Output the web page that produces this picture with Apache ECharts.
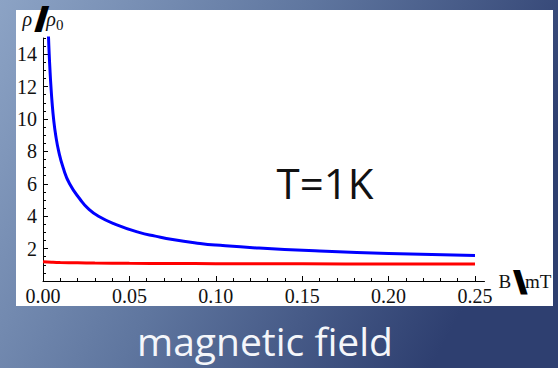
<!DOCTYPE html>
<html>
<head>
<meta charset="utf-8">
<script src="https://cdn.jsdelivr.net/npm/echarts@6.0.0/dist/echarts.min.js"></script>
<style>
  html, body { margin: 0; padding: 0; width: 558px; height: 368px; overflow: hidden; }
  #chart { width: 558px; height: 368px; }
  /* axis texts in a Times-like face; slide captions and slash marks keep their own fonts */
  #chart svg text:not([style*="Open"]):not([style*="DejaVu"]):not([font-family*="Open"]):not([font-family*="DejaVu"]) {
    font-family: "Liberation Serif", serif !important;
  }
</style>
</head>
<body>
<div id="chart"></div>
<script>
// Normalised resistivity against magnetic field at T = 1 K
const fieldBlue = [0.00289, 0.00321, 0.00359, 0.00405, 0.00460, 0.00527, 0.00613, 0.00735, 0.00909,
                   0.01163, 0.01539, 0.02176, 0.02587, 0.03212, 0.04196, 0.05556, 0.065, 0.075,
                   0.0909, 0.1, 0.125, 0.16, 0.2, 0.25];
const rhoBlue   = [16.0, 15.0, 14.0, 13.0, 12.0, 11.0, 10.0, 9.0, 8.0,
                   7.0, 6.0, 5.0, 4.5, 4.0, 3.5, 3.0, 2.77, 2.56,
                   2.32, 2.22, 2.03, 1.85, 1.70, 1.58];
const fieldRed  = [0, 0.005, 0.01, 0.02, 0.03, 0.05, 0.075, 0.1, 0.15, 0.2, 0.25];
const rhoRed    = [1.19, 1.16, 1.14, 1.12, 1.105, 1.09, 1.08, 1.07, 1.06, 1.055, 1.05];

// Axis ticks
const xMajorTicks = [0, 0.05, 0.1, 0.15, 0.2, 0.25];
const xMinorTicks = [0.01, 0.02, 0.03, 0.04, 0.06, 0.07, 0.08, 0.09, 0.11, 0.12, 0.13, 0.14,
                     0.16, 0.17, 0.18, 0.19, 0.21, 0.22, 0.23, 0.24];
const yMajorTicks = [2, 4, 6, 8, 10, 12, 14];
const yMinorTicks = [0.5, 1, 1.5, 2.5, 3, 3.5, 4.5, 5, 5.5, 6.5, 7, 7.5, 8.5, 9, 9.5,
                     10.5, 11, 11.5, 12.5, 13, 13.5, 14.5, 15];

const pair = (xs, ys) => xs.map((x, i) => [x, ys[i]]);

const serif = 'Liberation Serif';
const chart = echarts.init(document.getElementById('chart'), null, { renderer: 'svg' });

chart.setOption({
  animation: false,
  backgroundColor: {
    type: 'linear', x: 0, y: 0, x2: 1, y2: 0.35,
    colorStops: [
      { offset: 0, color: '#8ca3c5' },
      { offset: 0.5, color: '#5f769f' },
      { offset: 1, color: '#2e3f70' }
    ]
  },
  graphic: [
    { type: 'rect', z: -10, shape: { x: 16, y: 10, width: 537, height: 296 }, style: { fill: '#ffffff' } },
    { type: 'text', z: 10, x: 325, y: 182,
      style: { text: 'T=1K', font: '42px "Open Sans"', fill: '#111111', align: 'center', verticalAlign: 'middle' } },
    { type: 'text', z: 10, x: 265, y: 340,
      style: { text: 'magnetic field', font: '39px "Open Sans"', fill: '#f4f6fa', align: 'center', verticalAlign: 'middle' } }
  ],
  grid: { left: 43, top: 38, right: 73.5, bottom: 87, containLabel: false },
  xAxis: [
    {
      type: 'value', min: 0, max: 0.2555, interval: 0.05,
      axisLine: { show: true, onZero: false, lineStyle: { color: '#000', width: 1 } },
      axisTick: { show: true, inside: true, length: 5, customValues: xMajorTicks, lineStyle: { color: '#000' } },
      axisLabel: {
        show: true, showMaxLabel: false, margin: 5,
        fontFamily: serif, fontSize: 20, color: '#111',
        formatter: v => v.toFixed(2)
      },
      splitLine: { show: false },
      name: 'B {s|\\}mT',
      nameLocation: 'end', nameGap: 10,
      nameTextStyle: {
        color: '#111', fontFamily: serif, fontSize: 19, verticalAlign: 'middle',
        rich: { s: { fontFamily: 'DejaVu Sans', fontWeight: 'bold', fontSize: 25, color: '#000',
                     textBorderColor: '#000', textBorderWidth: 4 } }
      }
    },
    {
      type: 'value', min: 0, max: 0.2555, position: 'bottom',
      axisLine: { show: false },
      axisTick: { show: true, inside: true, length: 3, customValues: xMinorTicks, lineStyle: { color: '#000' } },
      axisLabel: { show: false },
      splitLine: { show: false }
    }
  ],
  yAxis: [
    {
      type: 'value', min: 0, max: 15, interval: 2,
      axisLine: { show: true, onZero: false, lineStyle: { color: '#000', width: 1 } },
      axisTick: { show: true, inside: true, length: 5, customValues: yMajorTicks, lineStyle: { color: '#000' } },
      axisLabel: {
        show: true, showMinLabel: false, showMaxLabel: false, margin: 6,
        fontFamily: serif, fontSize: 20, color: '#111'
      },
      splitLine: { show: false },
      name: '{i|ρ} {s|/}{i|ρ}{sub|0}',
      nameLocation: 'end', nameGap: 6,
      nameTextStyle: {
        color: '#111', fontFamily: serif, fontSize: 19, align: 'center',
        rich: {
          i: { fontFamily: serif, fontStyle: 'italic', fontSize: 20, color: '#111' },
          sub: { fontFamily: serif, fontSize: 15, color: '#111', verticalAlign: 'bottom' },
          s: { fontFamily: 'DejaVu Sans', fontWeight: 'bold', fontSize: 26, color: '#000',
               textBorderColor: '#000', textBorderWidth: 4 }
        }
      }
    },
    {
      type: 'value', min: 0, max: 15, position: 'left',
      axisLine: { show: false },
      axisTick: { show: true, inside: true, length: 3, customValues: yMinorTicks, lineStyle: { color: '#000' } },
      axisLabel: { show: false },
      splitLine: { show: false }
    }
  ],
  series: [
    {
      type: 'line', xAxisIndex: 0, yAxisIndex: 0,
      data: pair(fieldBlue, rhoBlue),
      showSymbol: false, smooth: 0.5,
      lineStyle: { color: '#0000ff', width: 3 }, clip: true
    },
    {
      type: 'line', xAxisIndex: 0, yAxisIndex: 0,
      data: pair(fieldRed, rhoRed),
      showSymbol: false, smooth: 0.5,
      lineStyle: { color: '#ff0000', width: 3 }, clip: true
    }
  ]
});
</script>
</body>
</html>
